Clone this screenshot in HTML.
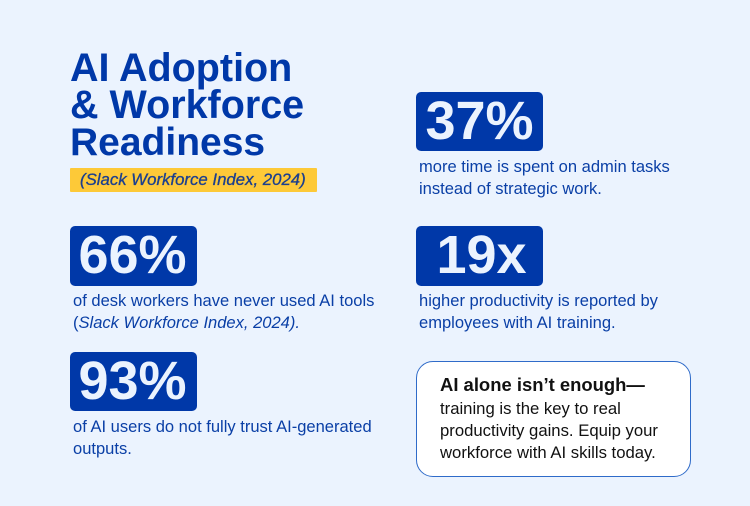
<!DOCTYPE html>
<html>
<head>
<meta charset="utf-8">
<style>
html,body{margin:0;padding:0}
body{width:750px;height:506px;background:#ebf3fe;position:relative;overflow:hidden;font-family:"Liberation Sans",sans-serif}
.t{position:absolute;white-space:nowrap}
.title{left:70px;font-size:39.5px;font-weight:700;color:#0038a8;line-height:37px}
.box{position:absolute;width:127px;height:59px;background:#0038a8;border-radius:5px}
.num{position:absolute;left:0;width:100%;text-align:center;color:#ebf3fe;font-size:54px;font-weight:700;line-height:59px}
.d{font-size:16.55px;color:#0a3fa6;line-height:22px}
.c{font-size:16.7px;color:#111;line-height:22px}
</style>
</head>
<body>
<div class="t title" style="top:50px">AI Adoption</div>
<div class="t title" style="top:87px">&amp; Workforce</div>
<div class="t title" style="top:124px;font-size:39px">Readiness</div>
<div style="position:absolute;left:70px;top:168px;width:247px;height:24px;background:#fdc938;border-radius:1px"></div>
<div class="t" style="left:80px;top:168px;line-height:24px;font-size:16.8px;font-style:italic;font-weight:400;-webkit-text-stroke:0.3px #1b3f8f;color:#1b3f8f">(Slack Workforce Index, 2024)</div>

<div class="box" style="left:416px;top:92px"><div class="num">37%</div></div>
<div class="t d" style="left:419px;top:156px">more time is spent on admin tasks<br>instead of strategic work.</div>

<div class="box" style="left:70px;top:226px;height:60px"><div class="num" style="left:-1px">66%</div></div>
<div class="t d" style="left:73px;top:290px">of desk workers have never used AI tools<br>(<i>Slack Workforce Index, 2024).</i></div>

<div class="box" style="left:416px;top:226px;height:60px"><div class="num" style="left:2px">19x</div></div>
<div class="t d" style="left:419px;top:290px">higher productivity is reported by<br>employees with AI training.</div>

<div class="box" style="left:70px;top:352px"><div class="num" style="left:-1px">93%</div></div>
<div class="t d" style="left:73px;top:416px">of AI users do not fully trust AI-generated<br>outputs.</div>

<div style="position:absolute;left:416px;top:361px;width:273px;height:114px;background:#fff;border:1px solid #2f6bc9;border-radius:17px"></div>
<div class="t c" style="left:440px;top:374px;font-size:18.45px;font-weight:700;line-height:22px">AI alone isn’t enough—</div>
<div class="t c" style="left:440px;top:398px">training is the key to real<br>productivity gains. Equip your<br>workforce with AI skills today.</div>
</body>
</html>
